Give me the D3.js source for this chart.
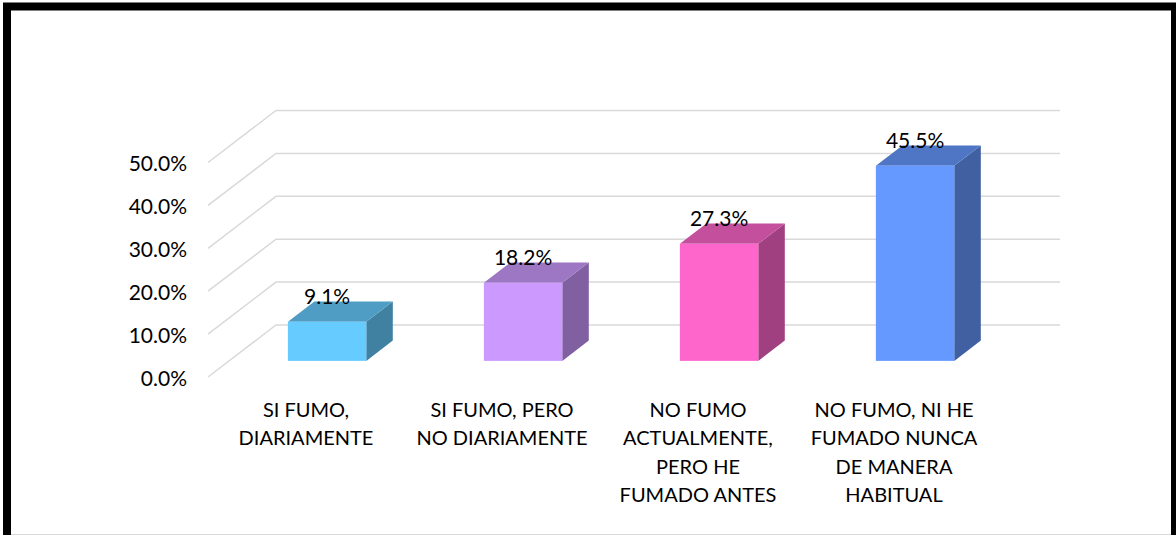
<!DOCTYPE html>
<html>
<head>
<meta charset="utf-8">
<script src="https://cdn.jsdelivr.net/npm/d3@7"></script>
<style>
  body { margin: 0; background: #fff; }
  text { font-family: Lato, "Open Sans", sans-serif; fill: #000; }
</style>
</head>
<body>
<script>
// chart data
var categories = [
  ["SI FUMO,", "DIARIAMENTE"],
  ["SI FUMO, PERO", "NO DIARIAMENTE"],
  ["NO FUMO", "ACTUALMENTE,", "PERO HE", "FUMADO ANTES"],
  ["NO FUMO, NI HE", "FUMADO NUNCA", "DE MANERA", "HABITUAL"]
];
var values = [0.091, 0.182, 0.273, 0.455];
var ticks = [0, 0.1, 0.2, 0.3, 0.4, 0.5];
var colors = ["#66CCFF", "#CC99FF", "#FF66CC", "#6699FF"];

var width = 1176, height = 535;

// floor depth vector (front -> back wall)
var depthX = 68, depthY = -52;
var barFront = 0.31, barBack = 0.70;

var svg = d3.select("body")
    .append("svg")
    .attr("width", width)
    .attr("height", height);

svg.append("rect")
    .attr("width", width)
    .attr("height", height)
    .attr("fill", "#fff");

var y = d3.scaleLinear()
    .domain([0, 0.5])
    .range([377, 162.5]);

var x = d3.scaleBand()
    .domain(d3.range(categories.length))
    .range([208, 1060 - depthX])
    .paddingInner(0.6)
    .paddingOuter(0.3);

var fmt = d3.format(".1%");

// gridlines: diagonal on the side wall, then along the back wall
svg.append("g")
  .selectAll("path")
  .data(ticks)
  .enter()
  .append("path")
    .attr("d", function(t) {
        return "M" + x.range()[0] + "," + y(t) +
               "l" + depthX + "," + depthY +
               "H" + (x.range()[1] + depthX);
    })
    .attr("fill", "none")
    .attr("stroke", "#d9d9d9")
    .attr("stroke-width", 1.5);

// y tick labels
svg.append("g")
  .selectAll("text")
  .data(ticks)
  .enter()
  .append("text")
    .attr("x", 187)
    .attr("y", function(t) { return y(t) + 8.5; })
    .attr("text-anchor", "end")
    .attr("font-size", 21)
    .text(function(t) { return fmt(t); });

function shade(c, k) {
    var r = d3.rgb(c);
    return d3.rgb(r.r * k, r.g * k, r.b * k).formatHex();
}

var bdx = (barBack - barFront) * depthX,
    bdy = (barBack - barFront) * depthY;

var bars = svg.append("g")
  .selectAll("g")
  .data(values)
  .enter()
  .append("g");

function geom(d, i) {
    var x0 = x(i) + barFront * depthX;
    var bottom = y(0) + barFront * depthY;
    var top = y(d) + barFront * depthY;
    return { x0: x0, x1: x0 + x.bandwidth(), top: top, bottom: bottom };
}

// side face
bars.append("path")
    .attr("d", function(d, i) {
        var g = geom(d, i);
        return "M" + g.x1 + "," + g.top +
               "l" + bdx + "," + bdy +
               "V" + (g.bottom + bdy) +
               "L" + g.x1 + "," + g.bottom + "Z";
    })
    .attr("fill", function(d, i) { return shade(colors[i], 0.63); });

// top face
bars.append("path")
    .attr("d", function(d, i) {
        var g = geom(d, i);
        return "M" + g.x0 + "," + g.top +
               "H" + g.x1 +
               "l" + bdx + "," + bdy +
               "H" + (g.x0 + bdx) + "Z";
    })
    .attr("fill", function(d, i) { return shade(colors[i], 0.77); });

// front face
bars.append("rect")
    .attr("x", function(d, i) { return geom(d, i).x0; })
    .attr("y", function(d, i) { return geom(d, i).top; })
    .attr("width", x.bandwidth())
    .attr("height", function(d, i) { var g = geom(d, i); return g.bottom - g.top; })
    .attr("fill", function(d, i) { return colors[i]; });

// data labels
bars.append("text")
    .attr("x", function(d, i) { return geom(d, i).x0 + x.bandwidth() / 2; })
    .attr("y", function(d, i) { return geom(d, i).top - 18; })
    .attr("text-anchor", "middle")
    .attr("font-size", 21)
    .text(function(d) { return fmt(d); });

// category labels
var cat = svg.append("g")
  .selectAll("text")
  .data(categories)
  .enter()
  .append("text")
    .attr("text-anchor", "middle")
    .attr("font-size", 20)
    .attr("transform", function(d, i) {
        return "translate(" + (x(i) + x.bandwidth() / 2) + ",417)";
    });

cat.selectAll("tspan")
    .data(function(d) { return d; })
    .enter()
    .append("tspan")
    .attr("x", 0)
    .attr("y", function(d, j) { return j * 28.4; })
    .text(function(d) { return d; });

// frame
svg.append("path")
    .attr("d", "M7," + (height + 10) + "V6.5H1175V" + (height + 10))
    .attr("fill", "none")
    .attr("stroke", "#000")
    .attr("stroke-width", 8);

svg.append("line")
    .attr("x1", 11).attr("x2", 1171)
    .attr("y1", height - 0.5).attr("y2", height - 0.5)
    .attr("stroke", "#d9d9d9");
</script>
</body>
</html>
